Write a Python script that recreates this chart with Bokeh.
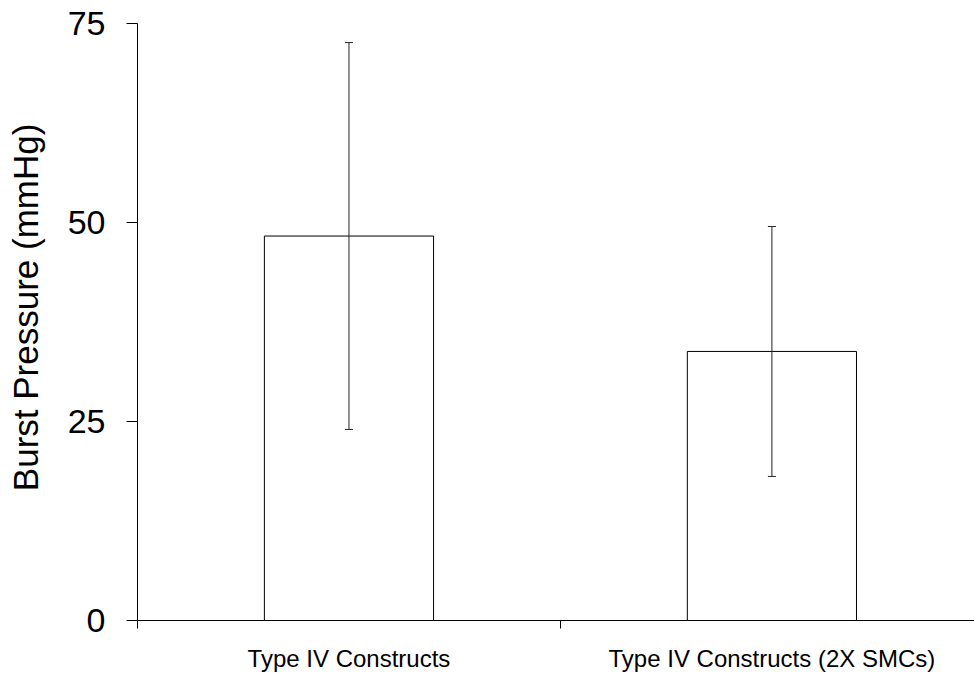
from bokeh.plotting import figure
from bokeh.models import ColumnDataSource, Range1d, FixedTicker, Whisker, TeeHead
from bokeh.embed import file_html
from bokeh.resources import INLINE

# ---- data ----
categories = ["Type IV Constructs", "Type IV Constructs (2X SMCs)"]
burst_mean = [48.3, 33.8]
burst_err = [24.3, 15.7]
y_ticks = [0, 25, 50, 75]

x_pos = [i + 0.5 for i in range(len(categories))]
source = ColumnDataSource(dict(
    x=x_pos,
    top=burst_mean,
    upper=[m + e for m, e in zip(burst_mean, burst_err)],
    lower=[m - e for m, e in zip(burst_mean, burst_err)],
))

FONT = "Liberation Sans"

p = figure(width=974, height=674, output_backend="svg", toolbar_location=None,
           x_range=Range1d(0, 1.979), y_range=Range1d(0, 75),
           min_border_left=137, min_border_right=0, min_border_top=23, min_border_bottom=53)
p.outline_line_color = None
p.xgrid.visible = False
p.ygrid.visible = False
p.background_fill_color = "white"
p.border_fill_color = "white"

p.vbar(x="x", top="top", bottom=0, width=0.40, source=source,
       fill_color="white", line_color="black", line_width=1)

ERR = "#222222"
w = Whisker(base="x", upper="upper", lower="lower", source=source,
            line_color=ERR, line_width=1, level="overlay",
            upper_head=TeeHead(size=8, line_color=ERR, line_width=1),
            lower_head=TeeHead(size=8, line_color=ERR, line_width=1))
p.add_layout(w)

# y axis
ya = p.yaxis[0]
ya.ticker = FixedTicker(ticks=y_ticks, minor_ticks=[])
ya.major_tick_out = 11
ya.major_tick_in = 0
ya.minor_tick_out = 0
ya.minor_tick_in = 0
ya.axis_line_color = "black"
ya.major_tick_line_color = "black"
ya.major_label_text_font = FONT
ya.major_label_text_font_size = "34px"
ya.major_label_text_color = "black"
ya.major_label_standoff = 21
ya.axis_label = "\u00a0\u00a0\u00a0Burst Pressure (mmHg)"
ya.axis_label_text_font = FONT
ya.axis_label_text_font_size = "35px"
ya.axis_label_text_font_style = "normal"
ya.axis_label_text_color = "black"
ya.axis_label_standoff = 20

# x axis: labels at category centres, tick marks at boundaries (minor ticks)
xa = p.xaxis[0]
xa.ticker = FixedTicker(ticks=x_pos, minor_ticks=[0, 1, 2])
xa.major_label_overrides = {x: c for x, c in zip(x_pos, categories)}
xa.major_tick_out = 0
xa.major_tick_in = 0
xa.minor_tick_out = 8
xa.minor_tick_in = 0
xa.minor_tick_line_color = "black"
xa.axis_line_color = "black"
xa.major_label_text_font = FONT
xa.major_label_text_font_size = "24px"
xa.major_label_text_color = "black"
xa.major_label_standoff = 16

open("out.html", "w").write(file_html(p, INLINE))
